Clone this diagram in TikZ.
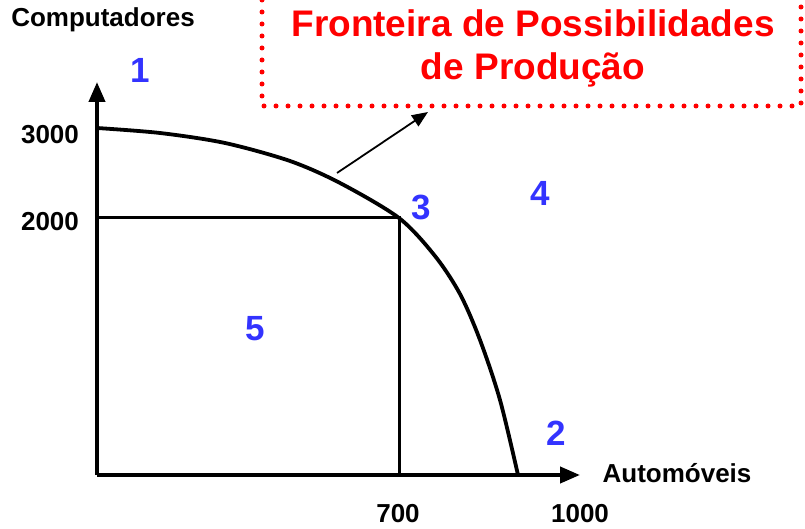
\documentclass[tikz,border=0pt]{standalone}
\usepackage{fontspec}
\setmainfont{Liberation Sans}
\usetikzlibrary{arrows.meta}
\definecolor{c1}{HTML}{3333FF}
\definecolor{c2}{HTML}{FF0000}

\begin{document}
\begin{tikzpicture}[x=1pt, y=-1pt,
        lbl/.style={font=\fontsize{26}{30}\selectfont\bfseries},
        num/.style={c1, font=\fontsize{35}{40}\selectfont\bfseries}]
        \useasboundingbox (0,0) rectangle (805,529);
        \coordinate (O) at (97,475);
        \draw [line width=4pt, -{Triangle[width=16pt,length=20pt]}] (O) -- (97,82) coordinate(YT);
        \draw [line width=4pt, -{Triangle[width=16pt,length=20pt]}] (O) -- (580,475) coordinate(XT);
        \node [lbl] (yl) at (103,20) {Computadores};
        \node [lbl] (xl) at (677,473) {Automóveis};
        % frontier
        \draw [line width=3.8pt, line join=round] plot [smooth, tension=0.5] coordinates {(97,128) (160,133) (225,143) (290,161) (340,183) (399,218) (435,256) (460,294) (480,340) (500,400) (518,475)};
        \coordinate (P3) at (399,218);
        \draw [line width=3pt] (97,218) -- (P3) -- (399,475);
        \node [lbl] (y3) at (50,135) {3000};
        \node [lbl] (y2) at (50,222) {2000};
        \node [lbl] (x7) at (398,514) {700};
        \node [lbl] (x1) at (580,514) {1000};
        % title box
        \draw [c2, line width=5pt, line cap=round, dash pattern=on 0pt off 12pt] (262,0) -- (262,106) -- (801,106) -- (801,0);
        \node [c2, font=\fontsize{37}{43}\selectfont\bfseries, align=center] (title) at (533,48) {Fronteira de Possibilidades\\de Produção};
        \coordinate (C) at (337,173);
        \draw [line width=1.8pt, -{Triangle[width=13pt,length=16pt]}] (C) -- (428,112) coordinate(T);
        \node [num] (n1) at (140,70) {1};
        \node [num] (n2) at (556,433) {2};
        \node [num] (n3) at (421,207) {3};
        \node [num] (n4) at (540,193) {4};
        \node [num] (n5) at (255,329) {5};
    \end{tikzpicture}
\end{document}
